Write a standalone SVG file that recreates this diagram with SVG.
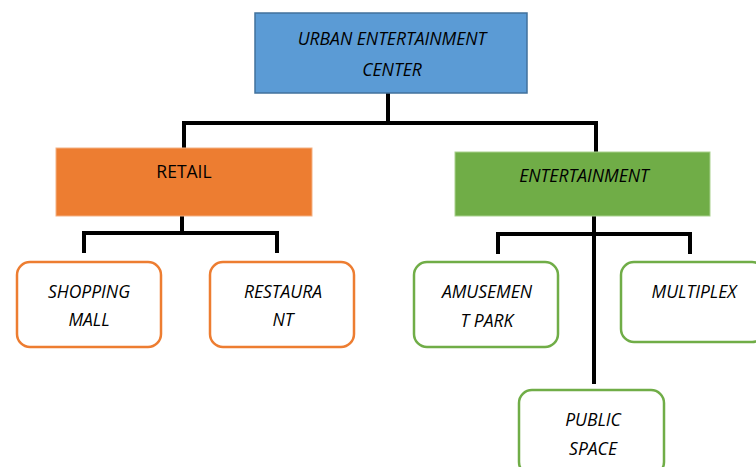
<svg xmlns="http://www.w3.org/2000/svg" width="756" height="467" viewBox="0 0 756 467">
<style>
.t{font-family:"Open Sans","Noto Sans","DejaVu Sans",sans-serif;font-size:17.5px;fill:#000;text-anchor:middle}
.i{font-style:italic}
.conn{stroke:#000;stroke-width:4;fill:none}
.oc{fill:#fff;stroke:#ed7d31;stroke-width:2.5}
.gc{fill:#fff;stroke:#70ad47;stroke-width:2.5}
</style>
<rect width="756" height="467" fill="#fff"/>
<g id="connectors">
<path class="conn" d="M388 80V123M184 123H596M184 121V150M596 121V154"/>
<path class="conn" d="M182 206V233M84 233H277M84 231V253M277 231V253"/>
<path class="conn" d="M594 204V384M498 234H690M498 232V254M690 232V254"/>
</g>
<g id="uec">
<rect x="255" y="13" width="272" height="80" fill="#5b9bd5" stroke="#41719c" stroke-width="1.5"/>
<text class="t i" x="392" y="45">URBAN ENTERTAINMENT</text>
<text class="t i" x="392" y="76">CENTER</text>
</g>
<g id="retail">
<rect x="56" y="148" width="256" height="68" fill="#ed7d31" stroke="#f4b183" stroke-width="1"/>
<text class="t" x="184" y="178">RETAIL</text>
</g>
<g id="entertainment">
<rect x="455" y="152" width="255" height="64" fill="#70ad47" stroke="#a9d18e" stroke-width="1"/>
<text class="t i" x="584" y="182">ENTERTAINMENT</text>
</g>
<g id="shopping">
<rect class="oc" x="17" y="262" width="144" height="85" rx="13"/>
<text class="t i" x="89" y="298">SHOPPING</text>
<text class="t i" x="89" y="326">MALL</text>
</g>
<g id="restaurant">
<rect class="oc" x="210" y="262" width="144" height="85" rx="13"/>
<text class="t i" x="283" y="298">RESTAURA</text>
<text class="t i" x="283" y="326">NT</text>
</g>
<g id="amusement">
<rect class="gc" x="414" y="262" width="144" height="85" rx="13"/>
<text class="t i" x="487" y="298">AMUSEMEN</text>
<text class="t i" x="487" y="327">T PARK</text>
</g>
<g id="multiplex">
<rect class="gc" x="621" y="262" width="144" height="80" rx="13"/>
<text class="t i" x="694" y="298">MULTIPLEX</text>
</g>
<g id="public">
<rect class="gc" x="519" y="390" width="145" height="85" rx="13"/>
<text class="t i" x="593" y="426">PUBLIC</text>
<text class="t i" x="593" y="455">SPACE</text>
</g>
</svg>
